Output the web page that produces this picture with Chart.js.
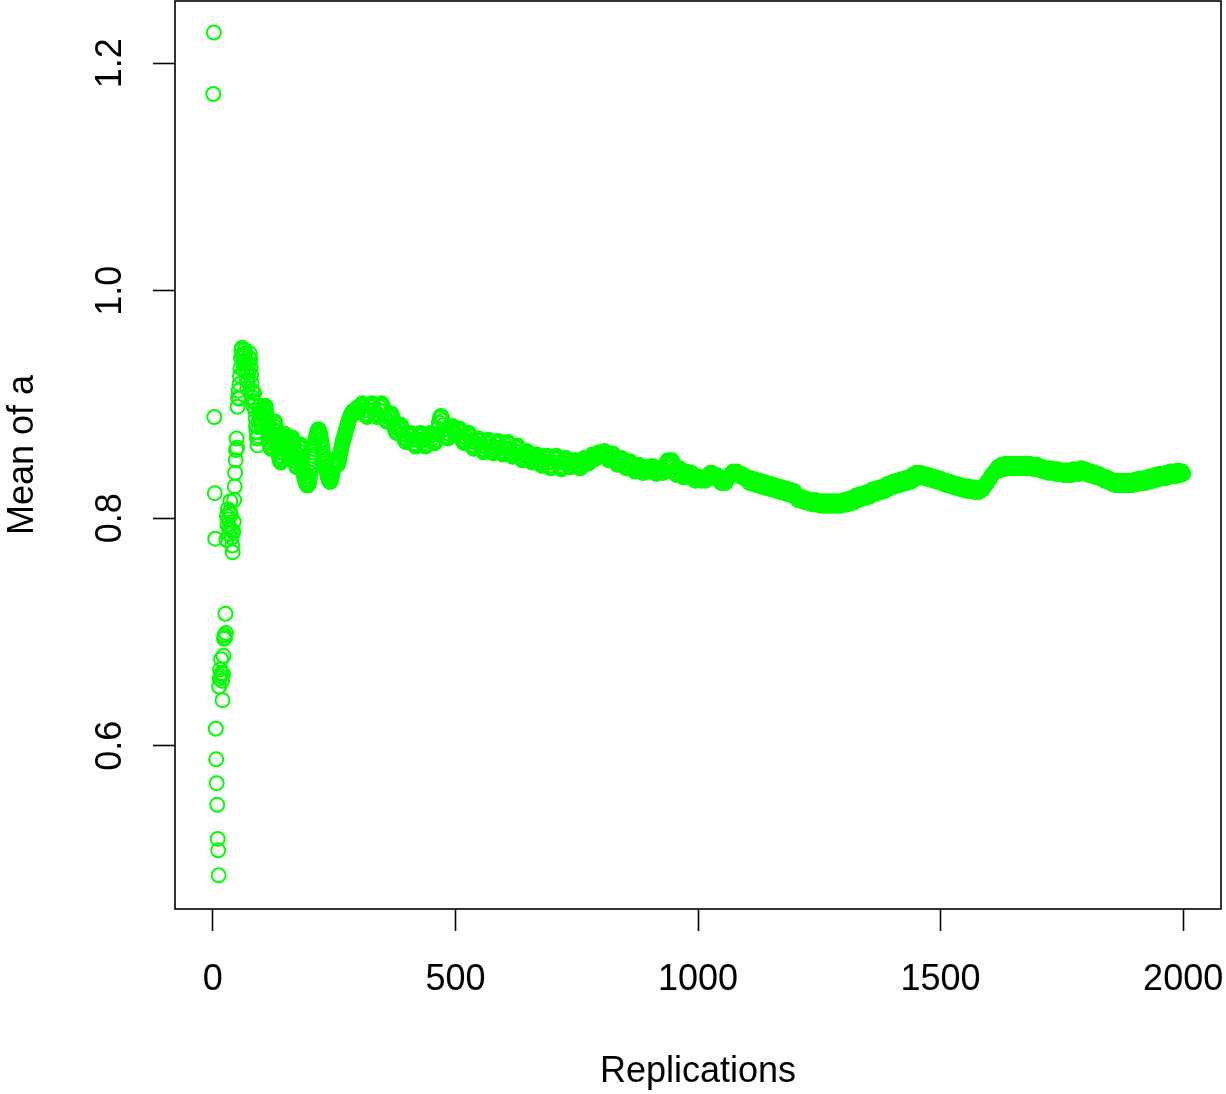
<!DOCTYPE html>
<html>
<head>
<meta charset="utf-8">
<script src="https://cdn.jsdelivr.net/npm/chart.js@4.4.1/dist/chart.umd.min.js"></script>
<style>
  html, body { margin: 0; padding: 0; background: #ffffff; }
  #c { display: block; }
</style>
</head>
<body>
<canvas id="c" width="1226" height="1094"></canvas>
<script>
// ---- DATA ----
const xTitle = "Replications";
const yTitle = "Mean of a";
const xTicks = [0, 500, 1000, 1500, 2000];
const xTickLabels = ["0", "500", "1000", "1500", "2000"];
const yTicks = [0.6, 0.8, 1.0, 1.2];
const yTickLabels = ["0.6", "0.8", "1.0", "1.2"];

// running mean of a, replications 1..100 (one value per replication)
const meanEarly = [
  1.173, 1.227, 0.889, 0.822, 0.782, 0.615, 0.588, 0.567, 0.548, 0.518,
  0.508, 0.486, 0.652, 0.659, 0.667, 0.661, 0.676, 0.664, 0.657, 0.640,
  0.663, 0.679, 0.694, 0.697, 0.695, 0.716, 0.699, 0.781, 0.802, 0.794,
  0.808, 0.799, 0.786, 0.792, 0.806, 0.815, 0.803, 0.790, 0.783, 0.776,
  0.770, 0.788, 0.797, 0.816, 0.828, 0.840, 0.851, 0.860, 0.870, 0.862,
  0.898, 0.906, 0.912, 0.905, 0.918, 0.925, 0.932, 0.941, 0.948, 0.950,
  0.944, 0.938, 0.931, 0.936, 0.943, 0.948, 0.945, 0.937, 0.929, 0.921,
  0.914, 0.920, 0.928, 0.936, 0.941, 0.945, 0.940, 0.933, 0.926, 0.919,
  0.912, 0.906, 0.899, 0.903, 0.910, 0.902, 0.895, 0.888, 0.881, 0.876,
  0.870, 0.864, 0.872, 0.880, 0.887, 0.893, 0.899, 0.894, 0.887, 0.882
];

// running mean of a, replications 101..300 (one value per replication)
const midStart = 101;
const meanMid = [
  0.884,0.886,0.889,0.891,0.894,0.896,0.898,0.899,0.897,0.894,
  0.890,0.886,0.882,0.877,0.873,0.869,0.866,0.863,0.862,0.861,
  0.863,0.866,0.870,0.874,0.878,0.881,0.884,0.885,0.883,0.880,
  0.876,0.871,0.866,0.862,0.858,0.855,0.853,0.851,0.850,0.849,
  0.851,0.854,0.858,0.861,0.865,0.868,0.871,0.874,0.874,0.872,
  0.869,0.866,0.862,0.859,0.856,0.853,0.854,0.856,0.859,0.862,
  0.865,0.868,0.870,0.871,0.869,0.866,0.862,0.858,0.854,0.850,
  0.847,0.845,0.846,0.849,0.852,0.856,0.859,0.862,0.864,0.865,
  0.862,0.858,0.853,0.849,0.845,0.842,0.839,0.837,0.835,0.834,
  0.832,0.831,0.830,0.829,0.829,0.829,0.830,0.831,0.833,0.836,
  0.840,0.843,0.846,0.849,0.852,0.855,0.858,0.861,0.864,0.866,
  0.868,0.870,0.872,0.874,0.876,0.877,0.878,0.878,0.877,0.876,
  0.874,0.872,0.869,0.866,0.863,0.860,0.857,0.855,0.852,0.850,
  0.848,0.846,0.844,0.842,0.840,0.838,0.837,0.835,0.834,0.833,
  0.832,0.832,0.833,0.834,0.836,0.838,0.840,0.843,0.845,0.847,
  0.849,0.851,0.852,0.851,0.850,0.848,0.847,0.848,0.849,0.851,
  0.853,0.856,0.858,0.860,0.862,0.864,0.866,0.868,0.869,0.871,
  0.872,0.874,0.875,0.877,0.878,0.880,0.881,0.883,0.884,0.886,
  0.887,0.888,0.889,0.890,0.891,0.892,0.893,0.894,0.894,0.893,
  0.892,0.892,0.893,0.894,0.895,0.896,0.897,0.897,0.896,0.895
];

// running mean of a at replications 302, 304, ..., 2000 (every 2nd replication);
// one row = 100 replications
const laterStart = 302;
const laterStep = 2;
const meanLater = [
  // 302-400
  0.895,0.898,0.900,0.901,0.899,0.895,0.892,0.890,0.889,0.891,0.895,0.898,0.900,0.901,0.899,0.895,0.892,0.890,0.889,0.891,0.895,0.898,0.900,0.901,0.899,
  0.894,0.890,0.887,0.885,0.886,0.889,0.891,0.892,0.892,0.889,0.884,0.880,0.877,0.875,0.876,0.879,0.881,0.882,0.882,0.879,0.874,0.871,0.868,0.867,0.869,
  // 402-500
  0.869,0.872,0.874,0.875,0.873,0.869,0.866,0.864,0.863,0.865,0.869,0.872,0.874,0.875,0.873,0.869,0.866,0.864,0.863,0.865,0.869,0.872,0.874,0.875,0.873,
  0.870,0.867,0.866,0.866,0.869,0.874,0.879,0.884,0.888,0.890,0.889,0.886,0.882,0.878,0.875,0.872,0.870,0.871,0.874,0.877,0.880,0.881,0.879,0.876,0.873,
  // 502-600
  0.874,0.877,0.879,0.879,0.877,0.872,0.869,0.867,0.866,0.868,0.871,0.874,0.875,0.875,0.872,0.868,0.864,0.862,0.861,0.863,0.866,0.869,0.870,0.870,0.868,
  0.864,0.861,0.859,0.858,0.860,0.863,0.866,0.868,0.869,0.867,0.863,0.860,0.858,0.857,0.859,0.862,0.865,0.867,0.868,0.866,0.862,0.859,0.857,0.856,0.858,
  // 602-700
  0.861,0.864,0.866,0.867,0.865,0.861,0.858,0.855,0.854,0.856,0.859,0.862,0.863,0.864,0.862,0.858,0.855,0.852,0.851,0.853,0.856,0.858,0.859,0.859,0.857,
  0.854,0.852,0.850,0.849,0.850,0.853,0.855,0.856,0.856,0.854,0.851,0.849,0.847,0.846,0.847,0.850,0.853,0.855,0.855,0.853,0.849,0.846,0.844,0.844,0.846,
  // 702-800
  0.849,0.852,0.854,0.855,0.853,0.849,0.846,0.844,0.843,0.845,0.849,0.851,0.853,0.853,0.851,0.848,0.846,0.845,0.845,0.846,0.848,0.850,0.851,0.851,0.849,
  0.847,0.845,0.844,0.844,0.846,0.849,0.851,0.853,0.853,0.851,0.849,0.848,0.849,0.851,0.854,0.856,0.855,0.853,0.852,0.853,0.855,0.857,0.858,0.857,0.855,
  // 802-900
  0.855,0.857,0.859,0.859,0.857,0.854,0.852,0.851,0.852,0.854,0.856,0.857,0.856,0.853,0.850,0.848,0.847,0.848,0.850,0.852,0.853,0.852,0.850,0.847,0.845,
  0.844,0.845,0.847,0.849,0.850,0.849,0.847,0.844,0.842,0.841,0.842,0.844,0.846,0.847,0.846,0.844,0.842,0.840,0.840,0.842,0.844,0.845,0.844,0.842,0.841,
  // 902-1000
  0.843,0.845,0.846,0.845,0.842,0.840,0.839,0.840,0.842,0.844,0.844,0.842,0.840,0.840,0.842,0.845,0.848,0.850,0.851,0.850,0.848,0.850,0.851,0.849,0.846,
  0.842,0.839,0.838,0.840,0.843,0.844,0.842,0.839,0.837,0.836,0.838,0.840,0.841,0.839,0.837,0.836,0.838,0.840,0.839,0.836,0.834,0.833,0.835,0.837,0.836,
  // 1002-1100
  0.836,0.835,0.834,0.833,0.834,0.836,0.835,0.833,0.834,0.836,0.838,0.839,0.840,0.840,0.839,0.837,0.836,0.837,0.838,0.837,0.835,0.833,0.832,0.831,0.832,
  0.833,0.832,0.831,0.832,0.834,0.836,0.837,0.838,0.839,0.840,0.841,0.840,0.839,0.840,0.841,0.840,0.838,0.837,0.838,0.839,0.838,0.836,0.835,0.836,0.835,
  // 1102-1200
  0.836,0.834,0.831,0.833,0.835,0.833,0.830,0.832,0.834,0.832,0.829,0.831,0.833,0.831,0.828,0.830,0.832,0.830,0.827,0.829,0.831,0.829,0.826,0.828,0.830,
  0.828,0.825,0.827,0.829,0.827,0.824,0.826,0.828,0.826,0.823,0.825,0.827,0.825,0.822,0.824,0.826,0.824,0.821,0.823,0.825,0.823,0.820,0.822,0.824,0.822,
  // 1202-1300
  0.820,0.818,0.816,0.818,0.819,0.817,0.815,0.817,0.818,0.816,0.814,0.816,0.817,0.815,0.813,0.815,0.816,0.814,0.812,0.814,0.816,0.814,0.812,0.814,0.815,
  0.813,0.811,0.813,0.815,0.813,0.811,0.813,0.815,0.813,0.811,0.813,0.815,0.813,0.811,0.813,0.815,0.813,0.811,0.813,0.815,0.813,0.811,0.813,0.815,0.813,
  // 1302-1400
  0.816,0.814,0.812,0.814,0.817,0.815,0.813,0.815,0.818,0.816,0.814,0.816,0.820,0.818,0.816,0.818,0.821,0.819,0.817,0.819,0.822,0.820,0.818,0.820,0.823,
  0.821,0.819,0.821,0.825,0.823,0.821,0.823,0.826,0.824,0.822,0.824,0.827,0.825,0.823,0.825,0.828,0.826,0.824,0.826,0.830,0.828,0.826,0.828,0.831,0.829,
  // 1402-1500
  0.832,0.830,0.828,0.830,0.833,0.831,0.829,0.831,0.834,0.832,0.830,0.832,0.835,0.833,0.831,0.833,0.836,0.834,0.832,0.834,0.838,0.836,0.834,0.836,0.840,
  0.838,0.836,0.838,0.840,0.838,0.836,0.838,0.839,0.837,0.835,0.837,0.838,0.836,0.834,0.836,0.837,0.835,0.833,0.835,0.836,0.834,0.832,0.834,0.835,0.833,
  // 1502-1600
  0.834,0.832,0.830,0.832,0.833,0.831,0.829,0.831,0.832,0.830,0.828,0.830,0.831,0.829,0.827,0.829,0.830,0.828,0.826,0.828,0.829,0.827,0.825,0.827,0.828,
  0.826,0.824,0.826,0.828,0.826,0.824,0.826,0.827,0.825,0.823,0.825,0.827,0.825,0.823,0.825,0.827,0.826,0.825,0.827,0.828,0.829,0.830,0.831,0.833,0.834,
  // 1602-1700
  0.835,0.837,0.838,0.839,0.840,0.841,0.842,0.843,0.845,0.843,0.842,0.844,0.847,0.845,0.843,0.845,0.848,0.846,0.844,0.846,0.848,0.846,0.844,0.846,0.848,
  0.846,0.844,0.846,0.848,0.846,0.844,0.846,0.848,0.846,0.844,0.846,0.848,0.846,0.844,0.846,0.848,0.846,0.844,0.846,0.847,0.845,0.843,0.845,0.847,0.845,
  // 1702-1800
  0.846,0.844,0.842,0.844,0.845,0.843,0.841,0.843,0.844,0.842,0.840,0.842,0.844,0.842,0.840,0.842,0.843,0.841,0.839,0.841,0.843,0.841,0.839,0.841,0.842,
  0.840,0.838,0.840,0.842,0.840,0.838,0.840,0.842,0.840,0.838,0.840,0.843,0.841,0.839,0.841,0.843,0.841,0.839,0.841,0.844,0.842,0.840,0.842,0.843,0.841,
  // 1802-1900
  0.842,0.840,0.838,0.840,0.841,0.839,0.837,0.839,0.840,0.838,0.836,0.838,0.839,0.837,0.835,0.837,0.837,0.835,0.833,0.835,0.836,0.834,0.832,0.834,0.834,
  0.832,0.830,0.832,0.833,0.831,0.829,0.831,0.833,0.831,0.829,0.831,0.833,0.831,0.829,0.831,0.833,0.831,0.829,0.831,0.833,0.831,0.829,0.831,0.833,0.831,
  // 1902-2000
  0.834,0.832,0.830,0.832,0.835,0.833,0.831,0.833,0.835,0.833,0.831,0.833,0.836,0.834,0.832,0.834,0.837,0.835,0.833,0.835,0.838,0.836,0.834,0.836,0.839,
  0.837,0.835,0.837,0.839,0.837,0.835,0.837,0.840,0.838,0.836,0.838,0.841,0.839,0.837,0.839,0.841,0.839,0.837,0.839,0.842,0.840,0.838,0.840,0.841,0.839
];

// ---- build the point table for the library ----
const points = [];
meanEarly.forEach((v, i) => points.push({ x: i + 1, y: v }));
meanMid.forEach((v, i) => points.push({ x: midStart + i, y: v }));
meanLater.forEach((v, i) => points.push({ x: laterStart + i * laterStep, y: v }));

const FONT = '36px "Liberation Sans", Arial, Helvetica, sans-serif';

const overlay = {
  id: 'overlay',
  afterDraw(chart) {
    const { ctx, chartArea: a, scales } = chart;
    const xs = scales.x, ys = scales.y;
    ctx.save();
    // plot box
    ctx.strokeStyle = '#000';
    ctx.lineWidth = 1.6;
    ctx.strokeRect(a.left, a.top, a.right - a.left, a.bottom - a.top);
    // tick labels
    ctx.fillStyle = '#000';
    ctx.font = FONT;
    ctx.textAlign = 'center';
    ctx.textBaseline = 'alphabetic';
    xTicks.forEach((v, i) => {
      ctx.fillText(xTickLabels[i], xs.getPixelForValue(v), a.bottom + 81);
    });
    yTicks.forEach((v, i) => {
      ctx.save();
      ctx.translate(a.left - 54, ys.getPixelForValue(v));
      ctx.rotate(-Math.PI / 2);
      ctx.fillText(yTickLabels[i], 0, 0);
      ctx.restore();
    });
    // axis titles
    ctx.fillText(xTitle, (a.left + a.right) / 2, a.bottom + 173);
    ctx.save();
    ctx.translate(a.left - 142, (a.top + a.bottom) / 2);
    ctx.rotate(-Math.PI / 2);
    ctx.fillText(yTitle, 0, 0);
    ctx.restore();
    ctx.restore();
  }
};

new Chart(document.getElementById('c'), {
  type: 'scatter',
  data: {
    datasets: [{
      data: points,
      showLine: false,
      pointStyle: 'circle',
      pointRadius: 7,
      pointBorderWidth: 2,
      pointBorderColor: '#00ff00',
      pointBackgroundColor: 'rgba(0,0,0,0)',
      clip: false
    }]
  },
  options: {
    responsive: false,
    animation: false,
    events: [],
    layout: { autoPadding: false, padding: { top: 1, right: 5, left: 0, bottom: 0 } },
    plugins: { legend: { display: false }, tooltip: { enabled: false } },
    scales: {
      x: {
        type: 'linear',
        position: 'bottom',
        min: -78,
        max: 2078,
        afterBuildTicks: s => { s.ticks = xTicks.map(v => ({ value: v })); },
        afterFit: s => { s.height = 185; },
        ticks: { display: false },
        grid: { drawOnChartArea: false, drawTicks: true, tickLength: 22, tickWidth: 1.6, tickColor: '#000', color: '#000' },
        border: { display: false }
      },
      y: {
        type: 'linear',
        position: 'left',
        min: 0.4564,
        max: 1.2548,
        afterBuildTicks: s => { s.ticks = yTicks.map(v => ({ value: v })); },
        afterFit: s => { s.width = 175; },
        ticks: { display: false },
        grid: { drawOnChartArea: false, drawTicks: true, tickLength: 22, tickWidth: 1.6, tickColor: '#000', color: '#000' },
        border: { display: false }
      }
    }
  },
  plugins: [overlay]
});
</script>
</body>
</html>
